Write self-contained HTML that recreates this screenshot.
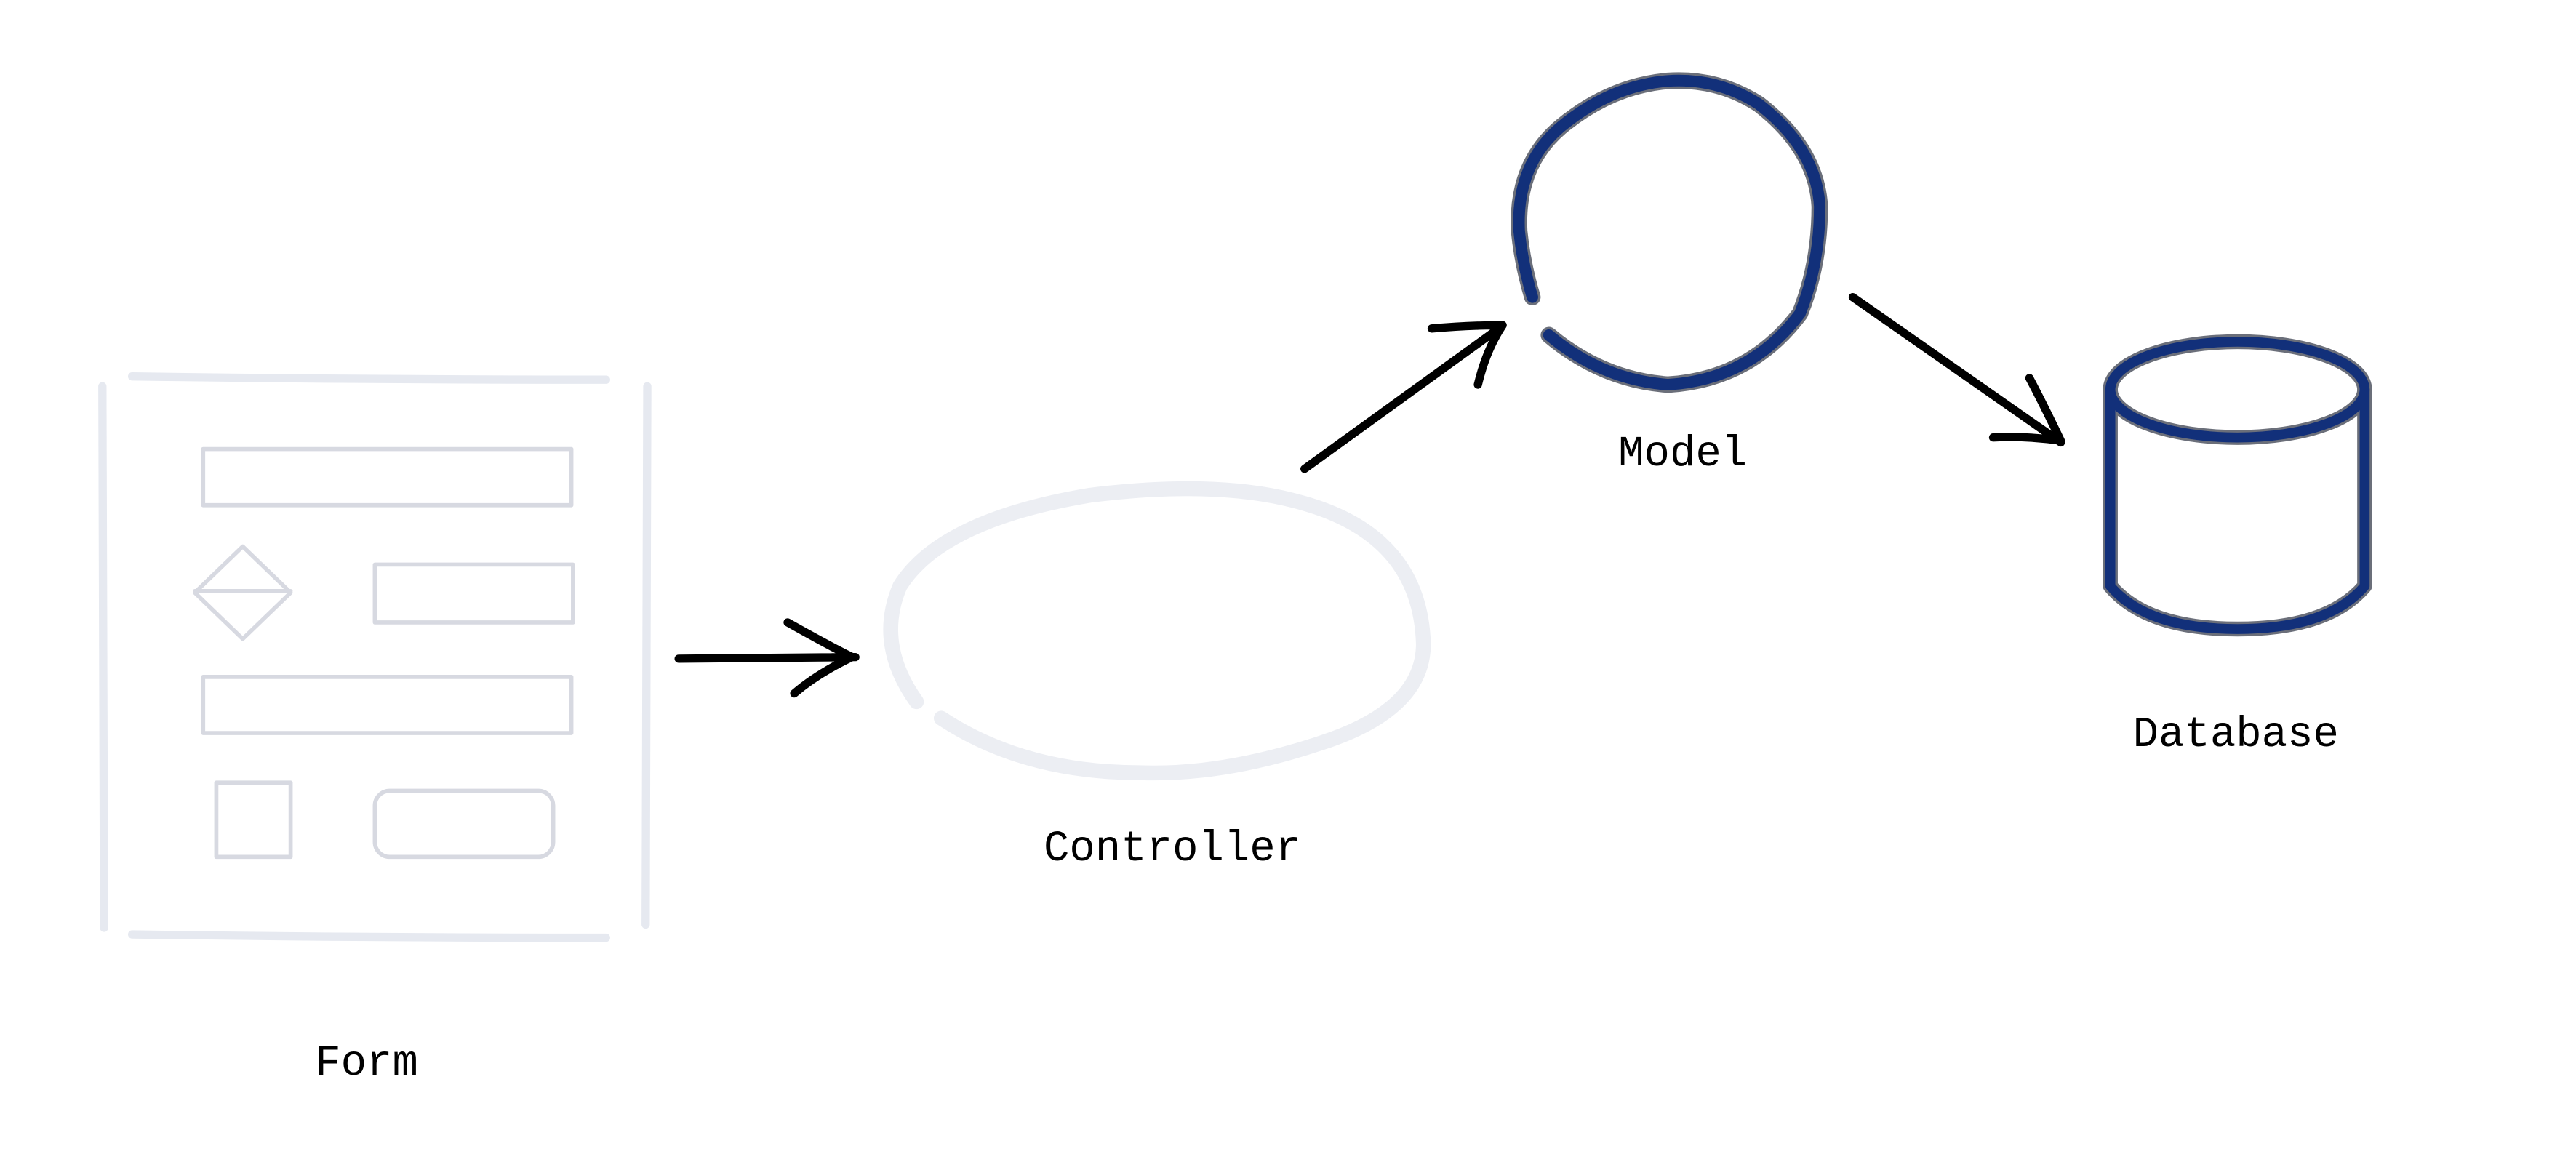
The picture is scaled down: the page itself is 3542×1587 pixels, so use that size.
<!DOCTYPE html>
<html><head><meta charset="utf-8"><style>
html,body{margin:0;padding:0;background:#fff;}
svg{display:block;}
</style></head><body>
<svg width="3542" height="1587" viewBox="0 0 1560 699" preserveAspectRatio="none" xmlns="http://www.w3.org/2000/svg">
<rect width="1560" height="699" fill="#fff"/>
<g fill="none" stroke-linecap="round" stroke-linejoin="round">
<!-- Form -->
<g stroke="#e6e9f0" stroke-width="5">
<path d="M62 234 L63 562"/>
<path d="M392 234 L391 560"/>
<path d="M80 228 Q220 230 367 230"/>
<path d="M80 566 Q220 568 367 568"/>
</g>
<g stroke="#d7d9e1" stroke-width="2.5">
<rect x="123" y="272" width="223" height="34"/>
<path d="M147 331 L176 359 L147 387 L118 359 Z M118 358 L176 358"/>
<rect x="227" y="342" width="120" height="35"/>
<rect x="123" y="410" width="223" height="34"/>
<rect x="131" y="474" width="45" height="45"/>
<rect x="227" y="479" width="108" height="40" rx="9"/>
</g>
<!-- Controller -->
<path d="M555 425 Q530 390 545 355 Q570 315 660 300 Q740 290 790 305 Q860 325 862 390 Q862 430 800 450 Q740 470 690 468 Q620 468 570 435" stroke="#eceef3" stroke-width="9"/>
<!-- Arrows -->
<g stroke="#000" stroke-width="5">
<path d="M411 399 L518 398 M477 377 Q500 390 516 398 Q495 408 481 420"/>
<path d="M790 284 L909 198 M867 199 Q890 197 910 197 Q900 212 895 233"/>
<path d="M1122 180 L1248 268 M1207 265 Q1228 264 1248 267 Q1238 246 1229 229"/>
</g>
<!-- Model -->
<path d="M938 203 Q970 230 1010 233 Q1060 230 1090 190 Q1102 160 1102 125 Q1100 90 1065 63 Q1040 47 1010 49 Q975 52 945 77 Q918 100 920 140 Q922 160 928 180" stroke="#6b6f7a" stroke-width="10"/>
<path d="M938 203 Q970 230 1010 233 Q1060 230 1090 190 Q1102 160 1102 125 Q1100 90 1065 63 Q1040 47 1010 49 Q975 52 945 77 Q918 100 920 140 Q922 160 928 180" stroke="#12307a" stroke-width="7"/>
<!-- Database -->
<g stroke="#6b6f7a" stroke-width="9">
<ellipse cx="1355" cy="236" rx="77" ry="29"/>
<path d="M1278 236 L1278 355 Q1300 381 1355 381 Q1410 381 1432 355 L1432 236"/>
</g>
<g stroke="#12307a" stroke-width="6">
<ellipse cx="1355" cy="236" rx="77" ry="29"/>
<path d="M1278 236 L1278 355 Q1300 381 1355 381 Q1410 381 1432 355 L1432 236"/>
</g>
</g>
<g font-family="'Liberation Mono', 'DejaVu Sans Mono', monospace" font-size="26" fill="#000" text-anchor="middle">
<text x="222" y="651">Form</text>
<text x="710" y="521">Controller</text>
<text x="1019" y="282">Model</text>
<text x="1354" y="452">Database</text>
</g>
</svg>
</body></html>
